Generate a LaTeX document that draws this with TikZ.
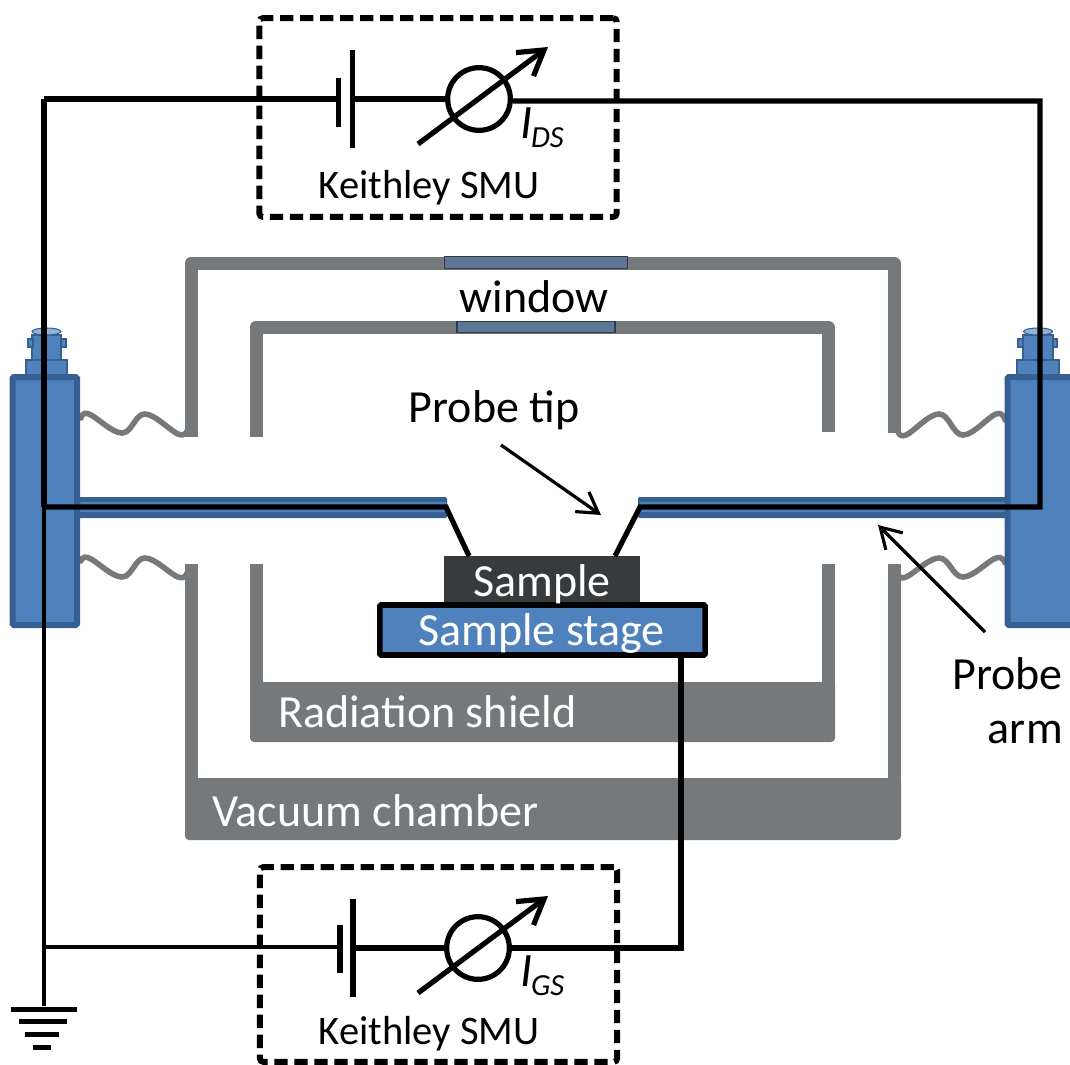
\documentclass[tikz,border=0pt]{standalone}
\usepackage{fontspec}
\setmainfont{Carlito}
\usetikzlibrary{arrows.meta}
\definecolor{wall}{HTML}{76797B}
\definecolor{blueF}{HTML}{4F81BD}
\definecolor{blueD}{HTML}{376092}
\definecolor{blueL}{HTML}{95B3D7}
\definecolor{winF}{HTML}{5F7797}
\definecolor{winD}{HTML}{2F3A4A}
\definecolor{sampleF}{HTML}{373B3E}
\tikzset{
  x=0.75pt,y=-0.75pt,
  wallline/.style={draw=wall,line width=9.75pt,line join=round},
  wallband/.style={fill=wall,rounded corners=3pt},
  wavy/.style={draw=wall,line width=4.2pt,line cap=round},
  windowbar/.style={draw=winD,line width=0.9pt,fill=winF,inner sep=0pt},
  armdark/.style={fill=blueD},
  armblue/.style={fill=blueF},
  housing/.style={draw=blueD,fill=blueF,line width=4.5pt,rounded corners=1pt},
  connpart/.style={draw=blueD,fill=blueF,line width=0.8pt},
  wire/.style={draw=black,line width=3.9pt,line join=miter},
  thinwire/.style={draw=black,line width=3pt},
  dashbox/.style={draw=black,line width=4.4pt,dash pattern=on 10pt off 5pt,rounded corners=2.5pt},
  plate/.style={fill=black,inner sep=0pt,minimum width=3.9pt},
  meter/.style={draw=black,line width=3.9pt,circle,inner sep=0pt,minimum size=47pt},
  meterarrow/.style={draw=black,line width=3.9pt,-{Straight Barb[length=18pt,width=22pt,line width=3.9pt]}},
  pointer/.style={draw=black,line width=2.4pt,-{Straight Barb[length=15pt,width=18pt,line width=2.4pt]}},
  gbar/.style={fill=black,inner sep=0pt,minimum height=3.75pt},
  txt/.style={font=\fontsize{34.5pt}{38pt}\selectfont,inner sep=0pt},
  smutxt/.style={font=\fontsize{30.4pt}{34pt}\selectfont,inner sep=0pt},
  wtxt/.style={txt,text=white},
}
\newcommand{\Cur}[2]{\fontsize{36pt}{38pt}\selectfont\textit{I}\kern-1pt\raisebox{-7pt}{\fontsize{23pt}{25pt}\selectfont\textit{#1#2}}}
\begin{document}
\begin{tikzpicture}
\useasboundingbox (0,0) rectangle (1070,1064);
\clip (0,0) rectangle (1070,1064);
% vacuum chamber
\draw[wallline] (191,437) -- (191,263) -- (894,263) -- (894,433);
\draw[wallline] (191,564) -- (191,790);
\draw[wallline] (894,564) -- (894,790);
\path[wallband] (185,778) rectangle (901,840);
% radiation shield
\draw[wallline] (256,437) -- (256,327) -- (828,327) -- (828,432);
\draw[wallline] (256,564) -- (256,695);
\draw[wallline] (828,564) -- (828,695);
\path[wallband] (250,682) rectangle (835,742);
% windows
\node[windowbar,minimum width=137pt,minimum height=8.8pt] (winO) at (536,262.5) {};
\node[windowbar,minimum width=118.5pt,minimum height=8.2pt] (winI) at (536,327) {};
% bellows
\draw[wavy] plot[smooth,tension=0.65] coordinates {(81,418) (89,414) (122,433) (145,414) (178,434) (187,431)};
\draw[wavy] plot[smooth,tension=0.65] coordinates {(81,561) (89,558) (122,577) (145,558) (178,577) (187,573)};
\draw[wavy] plot[smooth,tension=0.65] coordinates {(898,431) (906,435) (939,414) (963,435) (996,414) (1005,420)};
\draw[wavy] plot[smooth,tension=0.65] coordinates {(898,574) (906,577) (939,558) (963,577) (996,558) (1005,563)};
% probe arms
\path[armdark,rounded corners=1pt] (79,497) rectangle (447,518);
\path[armblue] (79,502) rectangle (446,512);
\path[armdark,rounded corners=1pt] (638,497) rectangle (1006,518);
\path[armblue] (640,502) rectangle (1006,512);
% housings
\path[connpart] (32,335) rectangle (61,362);
\path[connpart] (28,339) rectangle (33,347);
\path[connpart] (61,339) rectangle (66,347);
\path[connpart] (26,360) rectangle (67,376);
\path[draw=blueD,fill=blueL,line width=0.8pt] (46.5,331.5) ellipse [x radius=14.5,y radius=3.5];
\path[housing] (12.5,377) rectangle (77,625);
\path[connpart] (1023,335) rectangle (1053,362);
\path[connpart] (1018,339) rectangle (1023,347);
\path[connpart] (1053,339) rectangle (1057,347);
\path[connpart] (1017,360) rectangle (1059,376);
\path[draw=blueD,fill=blueL,line width=0.8pt] (1038,331.5) ellipse [x radius=14.5,y radius=3.5];
\path[housing] (1007.5,377) rectangle (1085,625);
% sample and stage
\node[fill=sampleF,minimum width=147pt,minimum height=36pt,inner sep=0pt] (sampleN) at (542,580) {};
\node[draw=black,fill=blueF,line width=4.2pt,rounded corners=1pt,minimum width=244pt,minimum height=37.5pt,inner sep=0pt] (stageN) at (542.5,630) {};
\node[wtxt] (sampleT) at (542,584) {Sample};
\node[wtxt] (stageT) at (541.5,633) {Sample stage};
% labels
\node[wtxt,anchor=west] (radT) at (278,712) {Radiation shield};
\node[wtxt,anchor=west] (vacT) at (212,811) {Vacuum chamber};
\node[txt] (winT) at (534,297) {window};
\node[txt] (tipT) at (494,410) {Probe tip};
\node[txt,anchor=east] (armA) at (1063,674) {Probe};
\node[txt,anchor=east] (armB) at (1063,732) {arm};
% SMU boxes
\node[dashbox,minimum width=268pt,minimum height=149pt,inner sep=0pt] (smuA) at (438,117.5) {};
\node[dashbox,minimum width=268pt,minimum height=146pt,inner sep=0pt] (smuB) at (438.5,964.5) {};
\node[smutxt] (smuAT) at (429,188) {Keithley SMU};
\node[smutxt] (smuBT) at (429,1034) {Keithley SMU};
% source / meter A
\node[plate,minimum height=36.5pt] (batAs) at (338.5,102.5) {};
\node[plate,minimum height=73pt] (batAl) at (352.5,99) {};
\node[meter] (mA) at (479,99) {};
\node[anchor=west,inner sep=0pt] (iA) at (520,128) {\Cur{D}{S}};
\coordinate (cA1) at (418,144);
\coordinate (cA2) at (548,47);
\draw[meterarrow] (cA1) -- (cA2);
% source / meter B
\node[plate,minimum height=36.5pt] (batBs) at (340,949) {};
\node[plate,minimum height=73pt] (batBl) at (353,948) {};
\node[meter] (mB) at (478,948) {};
\node[anchor=west,inner sep=0pt] (iB) at (520,976) {\Cur{G}{S}};
\coordinate (cB1) at (418,993);
\coordinate (cB2) at (548,896);
\draw[meterarrow] (cB1) -- (cB2);
% circuit
\coordinate (lt) at (44,99);
\coordinate (lj) at (44,507);
\coordinate (lb) at (44,947);
\coordinate (rt) at (1040,101);
\coordinate (rj) at (1040,507);
\coordinate (pl) at (446,507);
\coordinate (pr) at (640,507);
\coordinate (sl) at (469,556);
\coordinate (sr) at (615,556);
\coordinate (sc) at (681,948);
\draw[wire] (lt) -- (batAs.west |- lt);
\draw[wire] (batAl.east |- lt) -- (mA.west);
\draw[wire] (mA.east |- rt) -- (rt) -- (rj) -- (pr) -- (sr);
\draw[wire] (lt) -- (lj);
\draw[wire] (lj) -- (pl) -- (sl);
\node[gbar,minimum width=49.5pt] (g1) at (44,1009) {};
\node[gbar,minimum width=36.5pt] (g2) at (43,1021) {};
\node[gbar,minimum width=25pt] (g3) at (42,1034) {};
\node[gbar,minimum width=13pt] (g4) at (42,1047) {};
\draw[thinwire] (lj) -- (g1.north);
\draw[thinwire] (lb) -- (batBs.west |- lb);
\draw[wire] (batBl.east |- mB) -- (mB.west);
\draw[wire] (mB.east) -- (sc) -- (sc |- stageN.south);
% pointers
\coordinate (pa1) at (501,445);
\coordinate (pa2) at (601,515);
\coordinate (pb1) at (985,632);
\coordinate (pb2) at (878,525);
\draw[pointer] (pa1) -- (pa2);
\draw[pointer] (pb1) -- (pb2);
\end{tikzpicture}
\end{document}
